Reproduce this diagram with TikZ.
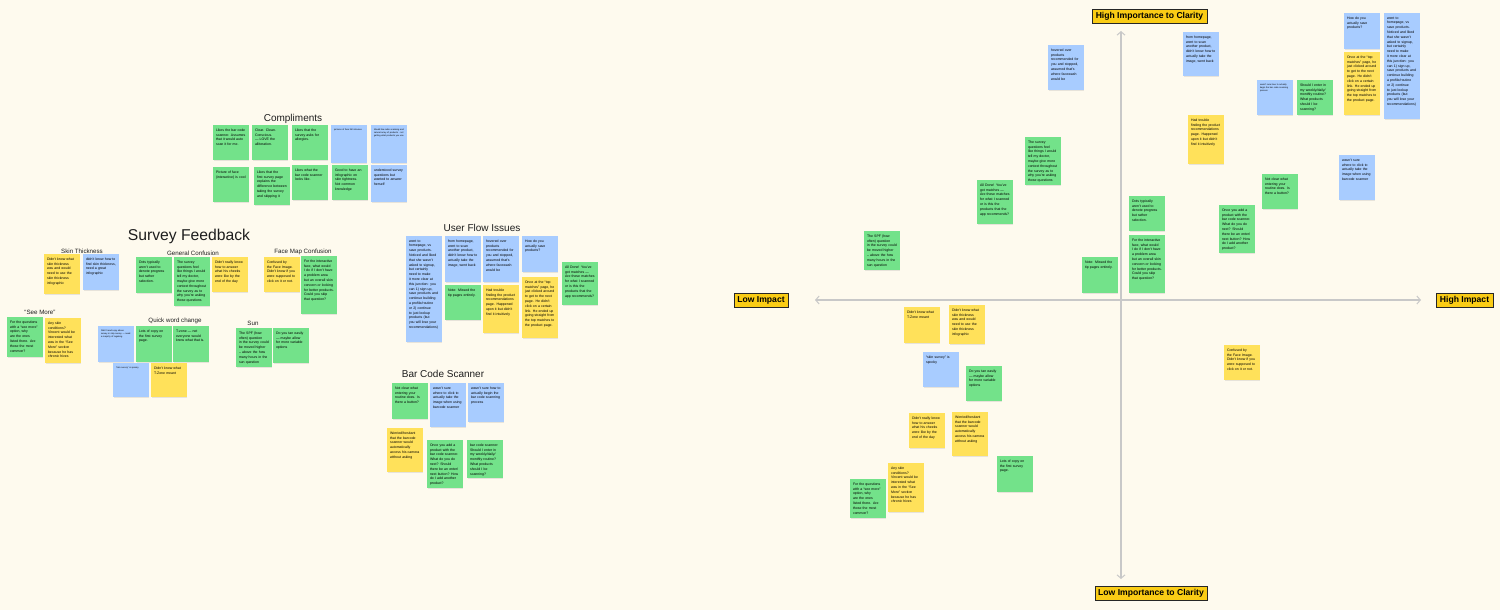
\documentclass[tikz,border=0pt]{standalone}
\usepackage{fontspec}
\setmainfont{Liberation Sans}
\usetikzlibrary{arrows.meta,shadows}
\definecolor{bg}{RGB}{254,250,238}
\definecolor{sgreen}{RGB}{115,226,138}
\definecolor{sblue}{RGB}{168,204,255}
\definecolor{syellow}{RGB}{255,225,90}
\definecolor{lgold}{RGB}{250,204,21}
\definecolor{axisgray}{RGB}{200,200,200}
\definecolor{ttlgray}{RGB}{30,30,30}
% sticky note: name, colour, x, y, height, text
\newcommand{\stk}[6]{\node[notebox,fill=#2,minimum height=#5] (#1) at (#3,#4) {};
  \node[notetxt] (#1t) at ([xshift=2.8pt,yshift=-3.6pt]#1.north west) {#6};}
\newcommand{\stt}[6]{\node[notebox,fill=#2,minimum height=#5] (#1) at (#3,#4) {};
  \node[tinytxt] (#1t) at ([xshift=2.8pt,yshift=-3.6pt]#1.north west) {#6};}
\begin{document}
\begin{tikzpicture}[x=1pt,y=-1pt,
  notebox/.style={anchor=north west,inner sep=0pt,minimum width=35.5pt,
    drop shadow={shadow xshift=0.3pt,shadow yshift=-0.6pt,opacity=0.18}},
  notetxt/.style={anchor=north west,inner sep=0pt,text width=30pt,align=left,
    font=\fontsize{3.5}{4.8}\selectfont,
    execute at begin node={\hyphenpenalty=10000\exhyphenpenalty=10000}},
  tinytxt/.style={notetxt,font=\fontsize{2.2}{3}\selectfont},
  sectitle/.style={font=\fontsize{10}{12}\selectfont,text=ttlgray,inner sep=0pt},
  subtitle/.style={font=\fontsize{6.2}{7}\selectfont,text=ttlgray,inner sep=0pt},
  bigtitle/.style={font=\fontsize{15.7}{18}\selectfont,text=ttlgray,inner sep=0pt},
  axlabel/.style={fill=lgold,draw=black!85,line width=0.7pt,inner sep=0pt,
    minimum height=13.5pt,font=\bfseries\fontsize{8.6}{9.5}\selectfont,
    drop shadow={shadow xshift=0.8pt,shadow yshift=-0.8pt,opacity=0.75}},
  axisline/.style={draw=axisgray,line width=1.1pt,
    {Straight Barb[length=3.5pt,width=8pt,line width=1pt]}-{Straight Barb[length=3.5pt,width=8pt,line width=1pt]}}
]
\useasboundingbox (0,0) rectangle (1500,610);
\fill[bg] (0,0) rectangle (1500,610);

% ---------------- Left board ----------------
\node[sectitle] (tcomp) at (293,118.5) {Compliments};
\stk{c1}{sgreen}{213}{125}{35}{Likes the bar code scanner. Assumes that it would auto scan it for me.}
\stk{c2}{sgreen}{252}{125}{35}{Clear. Clean. Conscious. — LOVE the alliteration.}
\stk{c3}{sgreen}{292}{125}{35}{Likes that the survey asks for allergies.}
\stt{c4}{sblue}{331}{125}{38}{pictures of face felt intrusive}
\stt{c5}{sblue}{371}{125}{38}{Would like radio scanning and natural array of products - not getting what products you use}
\stk{c6}{sgreen}{213}{167}{35}{Picture of face (interactive) is cool}
\stk{c7}{sgreen}{254}{167}{38}{Likes that the first survey page explains the difference between taking the survey and skipping it}
\stk{c8}{sgreen}{292}{165}{35}{Likes what the bar code scanner looks like.}
\stk{c9}{sgreen}{332}{165}{35}{Good to have an infographic on skin tightness. Not common knowledge}
\stk{c10}{sblue}{371}{165}{37}{understood survey questions but wanted to answer herself}

\node[bigtitle] (tsurvey) at (189,236) {Survey Feedback};

\node[subtitle] (tskin) at (82,251) {Skin Thickness};
\stk{s1}{syellow}{44}{254}{40}{Didn't know what skin thickness was and would need to use the skin thickness infographic}
\stk{s2}{sblue}{83}{254}{36}{didn't know how to find skin thickness, need a great infographic}

\node[subtitle] (tsee) at (40,312) {“See More”};
\stk{m1}{sgreen}{7}{317}{40}{For the questions with a “see more” option, why are the ones listed there. Are those the most common?}
\stk{m2}{syellow}{45}{318}{45}{Any skin conditions? Vincent would be interested what was in the “See More” section because he has chronic hives}

\node[subtitle] (tgen) at (193,253.5) {General Confusion};
\stk{g1}{sgreen}{136}{257}{36}{Dots typically aren't used to denote progress but rather selection.}
\stk{g2}{sgreen}{174}{257}{49}{The survey questions feel like things I would tell my doctor, maybe give more context throughout the survey as to why you're asking those questions}
\stk{g3}{syellow}{212}{257}{35}{Didn't really know how to answer what his cheeks were like by the end of the day}

\node[subtitle] (tface) at (303,252) {Face Map Confusion};
\stk{f1}{syellow}{264}{257}{35}{Confused by the Face Image. Didn't know if you were supposed to click on it or not.}
\stk{f2}{sgreen}{301}{256}{58}{For the interactive face, what would I do if I don't have a problem area but an overall skin concern or looking for better products. Could you skip that question?}

\node[subtitle] (tquick) at (175,321) {Quick word change};
\stt{q1}{sblue}{98}{326}{36}{Didn't read copy above survey in skip survey — need a majority of tagalong}
\stk{q2}{sgreen}{136}{326}{36}{Lots of copy on the first survey page.}
\stk{q3}{sgreen}{173}{326}{36}{T-zone — not everyone would know what that is.}
\stt{q4}{sblue}{113}{363}{34}{“skin survey” is spooky}
\stk{q5}{syellow}{151}{363}{34}{Didn't know what T-Zone meant}

\node[subtitle] (tsun) at (253,323.5) {Sun};
\stk{u1}{sgreen}{236}{328}{39}{The SPF (how often) question in the survey could be moved higher – above the how many hours in the sun question}
\stk{u2}{sgreen}{273}{328}{35}{Do you tan easily — maybe allow for more variable options}

\node[sectitle] (tuser) at (482,228) {User Flow Issues};
\stk{w1}{sblue}{406}{236}{106}{went to homepage, vs save products. Noticed and liked that she wasn't asked to signup, but certainly need to make it more clear at this junction: you can 1) sign up, save products and continue building a profile/routine or 2) continue to just lookup products (but you will lose your recommendations)}
\stk{w2}{sblue}{445}{236}{46}{from homepage, went to scan another product, didn't know how to actually take the image, went back}
\stk{w3}{sblue}{483}{236}{46}{hovered over products recommended for you and stopped, assumed that's where facewash would be}
\stk{w4}{sblue}{522}{236}{36}{How do you actually save products?}
\stk{w5}{sgreen}{445}{285}{35}{Note: Missed the tip pages entirely.}
\stk{w6}{syellow}{483}{285}{48}{Had trouble finding the product recommendations page. Happened upon it but didn't find it intuitively}
\stk{w7}{syellow}{522}{277}{61}{Once at the “top matches” page, he just clicked around to get to the next page. He didn't click on a certain link. He ended up going straight from the top matches to the product page.}
\stk{w8}{sgreen}{562}{262}{43}{All Done! You've got matches — Are these matches for what I scanned or is this the products that the app recommends?}

\node[sectitle] (tbar) at (443,374) {Bar Code Scanner};
\stk{b1}{sgreen}{392}{383}{36}{Not clear what entering your routine does. Is there a button?}
\stk{b2}{sblue}{430}{383}{44}{wasn't sure where to click to actually take the image when using barcode scanner}
\stk{b3}{sblue}{468}{383}{39}{wasn't sure how to actually begin the bar code scanning process}
\stk{b4}{syellow}{387}{428}{44}{Worried/hesitant that the barcode scanner would automatically access his camera without asking}
\stk{b5}{sgreen}{427}{440}{48}{Once you add a product with the bar code scanner. What do you do next? Should there be an enter/ next button? How do I add another product?}
\stk{b6}{sgreen}{467}{440}{38}{bar code scanner: Should I enter in my weekly/daily/ monthly routine? What products should I be scanning?}

% ---------------- Right matrix ----------------
\coordinate (xl) at (815,300);
\coordinate (xr) at (1421,300);
\coordinate (yt) at (1121,31);
\coordinate (yb) at (1121,579);
\draw[axisline] (xl) -- (xr);
\draw[axisline] (yt) -- (yb);

\node[axlabel,minimum width=115pt] (hic) at (1149.5,16.5) {High Importance to Clarity};
\node[axlabel,minimum width=112pt] (lic) at (1151,593.5) {Low Importance to Clarity};
\node[axlabel,minimum width=54pt] (li) at (761,300.5) {Low Impact};
\node[axlabel,minimum width=57pt] (hi) at (1464.5,300.5) {High Impact};

\stk{r1}{sblue}{1048}{45}{45}{hovered over products recommended for you and stopped, assumed that's where facewash would be}
\stk{r2}{sblue}{1183}{32}{44}{from homepage, went to scan another product, didn't know how to actually take the image, went back}
\stk{r3}{sblue}{1344}{13}{36}{How do you actually save products?}
\stk{r4}{sblue}{1384}{13}{106}{went to homepage, vs save products. Noticed and liked that she wasn't asked to signup, but certainly need to make it more clear at this junction: you can 1) sign up, save products and continue building a profile/routine or 2) continue to just lookup products (but you will lose your recommendations)}
\stk{r5}{syellow}{1344}{52}{63}{Once at the “top matches” page, he just clicked around to get to the next page. He didn't click on a certain link. He ended up going straight from the top matches to the product page.}
\stt{r6}{sblue}{1257}{80}{35}{wasn't sure how to actually begin the bar code scanning process}
\stk{r7}{sgreen}{1297}{80}{35}{Should I enter in my weekly/daily/ monthly routine? What products should I be scanning?}
\stk{r8}{syellow}{1188}{115}{49}{Had trouble finding the product recommendations page. Happened upon it but didn't find it intuitively}
\stk{r9}{sgreen}{1025}{137}{48}{The survey questions feel like things I would tell my doctor, maybe give more context throughout the survey as to why you're asking those questions}
\stk{r10}{sblue}{1339}{155}{45}{wasn't sure where to click to actually take the image when using barcode scanner}
\stk{r11}{sgreen}{1262}{174}{35}{Not clear what entering your routine does. Is there a button?}
\stk{r12}{sgreen}{977}{180}{44}{All Done! You've got matches — Are these matches for what I scanned or is this the products that the app recommends?}
\stk{r13}{sgreen}{1129}{196}{35}{Dots typically aren't used to denote progress but rather selection.}
\stk{r14}{sgreen}{1219}{205}{48}{Once you add a product with the bar code scanner. What do you do next? Should there be an enter/ next button? How do I add another product?}
\stk{r15}{sgreen}{864}{231}{39}{The SPF (how often) question in the survey could be moved higher – above the how many hours in the sun question}
\stk{r16}{sgreen}{1129}{235}{58}{For the interactive face, what would I do if I don't have a problem area but an overall skin concern or looking for better products. Could you skip that question?}
\stk{r17}{sgreen}{1082}{257}{36}{Note: Missed the tip pages entirely.}
\stk{r18}{syellow}{904}{307}{36}{Didn't know what T-Zone meant}
\stk{r19}{syellow}{949}{305}{39}{Didn't know what skin thickness was and would need to use the skin thickness infographic}
\stk{r20}{syellow}{1224}{345}{35}{Confused by the Face Image. Didn't know if you were supposed to click on it or not.}
\stk{r21}{sblue}{923}{352}{35}{“skin survey” is spooky}
\stk{r22}{sgreen}{966}{366}{35}{Do you tan easily — maybe allow for more variable options}
\stk{r23}{syellow}{909}{413}{35}{Didn't really know how to answer what his cheeks were like by the end of the day}
\stk{r24}{syellow}{952}{412}{44}{Worried/hesitant that the barcode scanner would automatically access his camera without asking}
\stk{r25}{sgreen}{997}{456}{36}{Lots of copy on the first survey page.}
\stk{r26}{syellow}{888}{463}{49}{Any skin conditions? Vincent would be interested what was in the “See More” section because he has chronic hives}
\stk{r27}{sgreen}{850}{479}{39}{For the questions with a “see more” option, why are the ones listed there. Are those the most common?}
\end{tikzpicture}
\end{document}
